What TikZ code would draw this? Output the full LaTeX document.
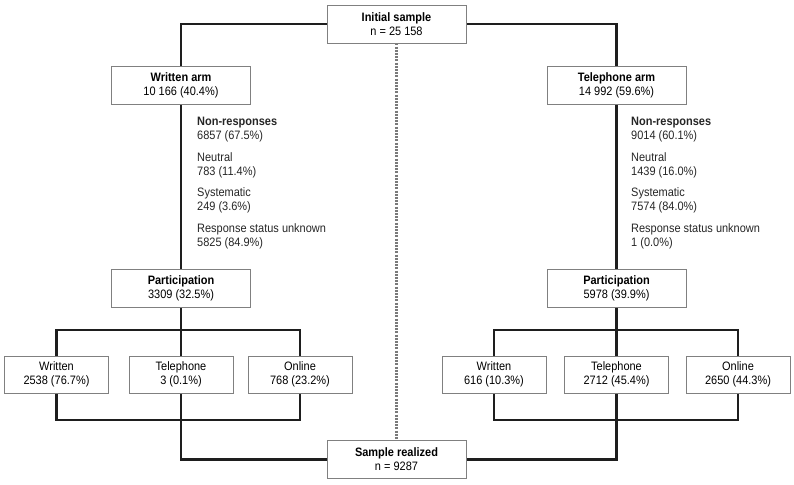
\documentclass[tikz,border=0pt]{standalone}
\usepackage{fontspec}
\setmainfont{Liberation Sans}[FakeStretch=0.9]
\usepackage{xcolor}
\usepackage{tikz}
\usetikzlibrary{calc, positioning, backgrounds}

\definecolor{linegray}{HTML}{1E1E1E}
\definecolor{boxgray}{HTML}{808080}
\definecolor{dotgray}{HTML}{7A7A7A}

\begin{document}
\begin{tikzpicture}[x=1pt, y=-1pt,
    font=\fontsize{12.2}{14}\selectfont,
    bigbox/.style={draw=boxgray, line width=0.8pt, fill=white, align=center,
        minimum width=139pt, minimum height=38pt, inner sep=0pt},
    modebox/.style={bigbox, minimum width=104pt, minimum height=37pt},
    conn/.style={draw=linegray, line width=2.7pt, line join=miter},
    notes/.style={align=left, anchor=north west, inner sep=0pt, text=black!85}]
    \useasboundingbox (0,0) rectangle (794,484);

    % Boxes top and bottom
    \node[bigbox] (init) at (396.5,24) {\textbf{Initial sample}\\n = 25 158};
    \node[bigbox] (final) at (396.5,459.5) {\textbf{Sample realized}\\n = 9287};

    % The two arms
    \node[bigbox] (warm) at (181,85.5) {\textbf{Written arm}\\10 166 (40.4\%)};
    \node[bigbox] (tarm) at (616.5,85.5) {\textbf{Telephone arm}\\14 992 (59.6\%)};
    \node[bigbox] (wpart) at (181,288) {\textbf{Participation}\\3309 (32.5\%)};
    \node[bigbox] (tpart) at (616.5,288) {\textbf{Participation}\\5978 (39.9\%)};

    % Non-responses
    \node[notes] (wnon) at (197,117) {\textbf{Non-responses}\\6857 (67.5\%)\\[7.5pt]
        Neutral\\783 (11.4\%)\\[7.5pt]
        Systematic\\249 (3.6\%)\\[7.5pt]
        Response status unknown\\5825 (84.9\%)};
    \node[notes] (tnon) at (631,117) {\textbf{Non-responses}\\9014 (60.1\%)\\[7.5pt]
        Neutral\\1439 (16.0\%)\\[7.5pt]
        Systematic\\7574 (84.0\%)\\[7.5pt]
        Response status unknown\\1 (0.0\%)};

    % Survey modes
    \foreach \nm/\x/\lab/\val in {wwri/56.5/Written/2538 (76.7\%), wtel/181/Telephone/3 (0.1\%),
        wonl/300/Online/768 (23.2\%), twri/494/Written/616 (10.3\%),
        ttel/616.5/Telephone/2712 (45.4\%), tonl/738/Online/2650 (44.3\%)} {
        \node[modebox] (\nm) at (\x,374.5) {\lab\\\val};
    }

    % Branch points
    \coordinate (wtop) at (181,330);
    \coordinate (wbot) at (181,420);
    \coordinate (ttop) at (616.5,330);
    \coordinate (tbot) at (616.5,420);

    % Connectors
    \begin{scope}[on background layer]
        \draw[conn] (init.west) -| (warm.north);
        \draw[conn] (init.east) -| (tarm.north);
        \draw[conn] (warm.south) -- (wpart.north);
        \draw[conn] (tarm.south) -- (tpart.north);
        \draw[conn] (wpart.south) -- (wtel.north);
        \draw[conn] (tpart.south) -- (ttel.north);
        \draw[conn] (wwri.north) |- (wtop) -| (wonl.north);
        \draw[conn] (twri.north) |- (ttop) -| (tonl.north);
        \draw[conn] (wwri.south) |- (wbot) -| (wonl.south);
        \draw[conn] (twri.south) |- (tbot) -| (tonl.south);
        \draw[conn] (wtel.south) |- (final.west);
        \draw[conn] (ttel.south) |- (final.east);
        \draw[dotgray, line width=2.2pt, dash pattern=on 2pt off 1.2pt] (init.south) -- (final.north);
    \end{scope}
\end{tikzpicture}
\end{document}
